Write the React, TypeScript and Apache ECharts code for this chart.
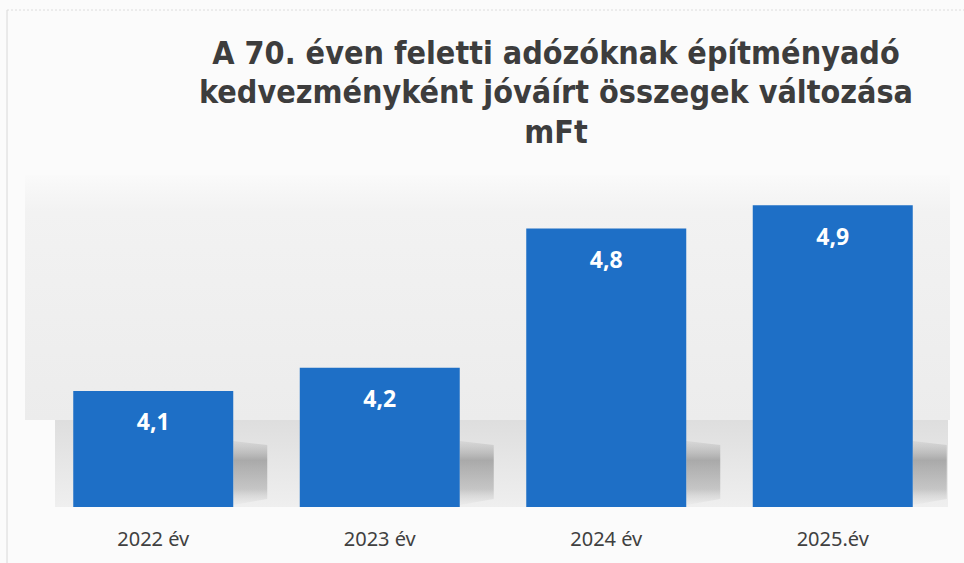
import React, { useEffect, useRef } from "react";
import * as echarts from "echarts";

const categories = ["2022 év", "2023 év", "2024 év", "2025.év"];
const values = [4.1, 4.2, 4.8, 4.9];
const titleLines = [
  "A 70. éven feletti adózóknak építményadó",
  "kedvezményként jóváírt összegek változása",
  "mFt",
];
const axisMin = 3.6;
const axisMax = 5.0;

export default function App() {
  const ref = useRef<HTMLDivElement>(null);
  useEffect(() => {
    if (!ref.current) return;
    const chart = echarts.init(ref.current, undefined, { renderer: "svg" });
    chart.setOption({
      animation: false,
      backgroundColor: "#fbfbfb",
      graphic: [
        {
          type: "rect",
          z: -10,
          silent: true,
          shape: { x: 25, y: 175, width: 925, height: 245 },
          style: {
            fill: new echarts.graphic.LinearGradient(0, 0, 0, 1, [
              { offset: 0, color: "#fafafa" },
              { offset: 0.15, color: "#f2f2f2" },
              { offset: 1, color: "#ececec" },
            ]),
          },
        },
        {
          type: "rect",
          z: -10,
          silent: true,
          shape: { x: 55, y: 420, width: 893, height: 87 },
          style: {
            fill: new echarts.graphic.LinearGradient(0, 0, 0, 1, [
              { offset: 0, color: "#dedede" },
              { offset: 1, color: "#efefef" },
            ]),
          },
        },
        {
          type: "line",
          silent: true,
          shape: { x1: 7, y1: 10, x2: 7, y2: 563 },
          style: { stroke: "#d8d8d8", lineWidth: 1 },
        },
        {
          type: "line",
          silent: true,
          shape: { x1: 7, y1: 10, x2: 964, y2: 10 },
          style: { stroke: "#dcdcdc", lineWidth: 1, lineDash: [2, 2] },
        },
        {
          type: "text",
          x: 556,
          y: 33,
          silent: true,
          style: {
            text: titleLines.join("\n"),
            fontFamily: "DejaVu Sans Condensed",
            fontWeight: "bold",
            fontSize: 32,
            lineHeight: 39.5,
            fill: "#3d3d3d",
            textAlign: "center",
            textVerticalAlign: "top",
          },
        },
      ],
      grid: { left: 40, right: 18, top: 182, bottom: 56 },
      xAxis: {
        type: "category",
        data: categories,
        axisLine: { show: false },
        axisTick: { show: false },
        axisLabel: {
          margin: 21,
          fontFamily: "Noto Sans",
          fontSize: 20,
          color: "#404040",
        },
      },
      yAxis: {
        type: "value",
        min: axisMin,
        max: axisMax,
        show: false,
        splitLine: { show: false },
      },
      series: [
        {
          type: "custom",
          silent: true,
          z: 1,
          data: values.map((v, i) => [i, v]),
          renderItem: (params: any, api: any) => {
            const idx = api.value(0);
            const base = api.coord([idx, axisMin]);
            const barHalf = 80;
            const x0 = base[0] + barHalf;
            return {
              type: "polygon",
              shape: {
                points: [
                  [x0, base[1] - 66],
                  [x0 + 34, base[1] - 62],
                  [x0 + 34, base[1] - 8],
                  [x0, base[1] - 2],
                ],
              },
              style: {
                fill: new echarts.graphic.LinearGradient(0, 0, 0, 1, [
                  { offset: 0, color: "rgba(150,150,150,0.15)" },
                  { offset: 0.3, color: "rgba(120,120,120,0.55)" },
                  { offset: 0.75, color: "rgba(140,140,140,0.4)" },
                  { offset: 1, color: "rgba(200,200,200,0.1)" },
                ]),
              },
            };
          },
        },
        {
          type: "bar",
          data: values,
          barWidth: 160,
          z: 2,
          itemStyle: { color: "#1e6fc6" },
          label: {
            show: true,
            position: "insideTop",
            distance: 19,
            color: "#ffffff",
            fontFamily: "Open Sans",
            fontWeight: "bold",
            fontSize: 23,
            formatter: (p: any) => String(p.value).replace(".", ","),
          },
        },
      ],
    });
    return () => chart.dispose();
  }, []);
  return (
    <div
      ref={ref}
      style={{ position: "fixed", left: 0, top: 0, width: 964, height: 563 }}
    />
  );
}
